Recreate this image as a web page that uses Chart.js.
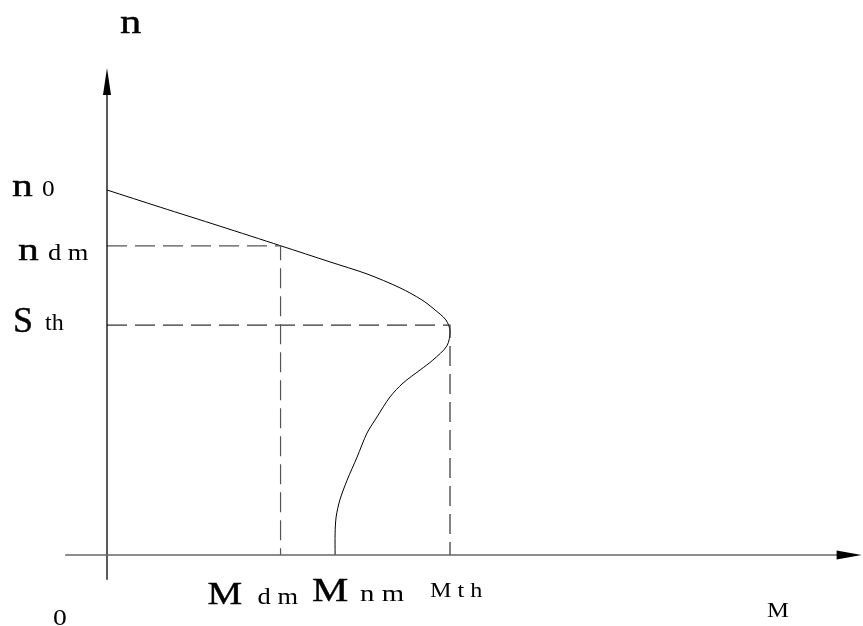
<!DOCTYPE html>
<html>
<head>
<meta charset="utf-8">
<script src="https://cdn.jsdelivr.net/npm/chart.js@4/dist/chart.umd.min.js"></script>
<style>
  html, body { margin: 0; padding: 0; background: #fff; }
  #wrap { width: 863px; height: 626px; }
</style>
</head>
<body>
<div id="wrap"><canvas id="chart" width="863" height="626"></canvas></div>
<script>
// Characteristic points (M normalised to M_th = 1, n normalised to n0 = 1)
const nValues = { n0: 1.0, ndm: 0.847, sth: 0.63 };
const mValues = { mdm: 0.506, mnm: 0.665, mth: 1.0 };

// Curve n = f(M)
const curveM = [0, 0.155, 0.329, 0.507, 0.650, 0.758, 0.854, 0.918, 0.953, 0.988, 1.0,
                0.991, 0.950, 0.913, 0.863, 0.825, 0.787, 0.758, 0.729, 0.700, 0.679, 0.668, 0.665, 0.665];
const curveN = [1.0, 0.953, 0.901, 0.847, 0.803, 0.770, 0.732, 0.699, 0.674, 0.644, 0.614,
                0.573, 0.534, 0.507, 0.471, 0.433, 0.378, 0.334, 0.268, 0.205, 0.151, 0.104, 0.060, 0];

// Axis extents
const xAxisRange = [-0.122, 2.2];
const yAxisRange = [-0.068, 1.334];

const curvePoints = curveM.map((m, i) => ({ x: m, y: curveN[i] }));

function dashed(m, n) {
  return [{ x: 0, y: n }, { x: m, y: n }, { x: m, y: 0 }];
}

// Flechas y etiquetas
const decorPlugin = {
  id: "decor",
  afterDatasetsDraw(chart) {
    const ctx = chart.ctx;
    const xs = chart.scales.x, ys = chart.scales.y;
    const px = v => xs.getPixelForValue(v);
    const py = v => ys.getPixelForValue(v);

    ctx.save();
    ctx.fillStyle = "#000";
    ctx.strokeStyle = "#000";
    ctx.lineWidth = 1;
    // y arrow
    const ax = px(0), ayTip = py(yAxisRange[1]);
    ctx.beginPath();
    ctx.moveTo(ax, ayTip);
    ctx.lineTo(ax - 4, ayTip + 27);
    ctx.lineTo(ax + 4, ayTip + 27);
    ctx.closePath();
    ctx.fill();
    // x arrow
    const bxTip = px(xAxisRange[1]), by = py(0);
    ctx.beginPath();
    ctx.moveTo(bxTip, by);
    ctx.lineTo(bxTip - 25, by - 4.5);
    ctx.lineTo(bxTip - 25, by + 4.5);
    ctx.closePath();
    ctx.fill();

    // heavy = trazo extra para engrosar un poco las letras grandes
    function txt(s, x, y, size, sx, heavy) {
      ctx.save();
      ctx.translate(x, y);
      ctx.scale(sx, 1);
      ctx.font = size + "px 'Liberation Serif'";
      ctx.textBaseline = "alphabetic";
      ctx.textAlign = "left";
      ctx.fillText(s, 0, 0);
      if (heavy) {
        ctx.lineWidth = heavy;
        ctx.strokeText(s, 0, 0);
      }
      ctx.restore();
    }

    const o = px(0);
    // n axis title
    txt("n", o + 13, ayTip - 35, 34, 1.25, 0.4);
    // n ticks
    txt("n", 12, py(nValues.n0) + 6, 32, 1.3, 0.4);
    txt("0", 42, py(nValues.n0) + 6, 23, 1.1);
    txt("n", 18, py(nValues.ndm) + 14, 32, 1.3, 0.4);
    txt("d m", 48, py(nValues.ndm) + 14, 23, 1.15);
    txt("S", 13, py(nValues.sth) + 7, 36, 1.0, 0.4);
    txt("th", 45, py(nValues.sth) + 5, 24, 1.0);
    // M ticks
    txt("M", px(mValues.mdm) - 73, by + 49, 32, 1.22, 0.4);
    txt("d m", px(mValues.mdm) - 23, by + 49, 23, 1.15);
    txt("M", px(mValues.mnm) - 23, by + 46, 34, 1.2, 0.4);
    txt("n m", px(mValues.mnm) + 25, by + 46, 23, 1.25);
    txt("M t h", px(mValues.mth) - 20, by + 42, 21, 1.15);
    // origin and M axis title
    txt("0", 53, 625, 23, 1.2);
    txt("M", 767, 617, 22, 1.12);
    ctx.restore();
  }
};

new Chart(document.getElementById("chart"), {
  type: "scatter",
  data: {
    datasets: [
      {
        data: [{ x: xAxisRange[0], y: 0 }, { x: xAxisRange[1] - 0.05, y: 0 }],
        showLine: true, borderColor: "#666", borderWidth: 1.3, pointRadius: 0
      },
      {
        data: [{ x: 0, y: yAxisRange[0] }, { x: 0, y: yAxisRange[1] - 0.05 }],
        showLine: true, borderColor: "#000", borderWidth: 1.3, pointRadius: 0
      },
      {
        data: dashed(mValues.mdm, nValues.ndm),
        showLine: true, borderColor: "#555", borderWidth: 1.2, borderDash: [20, 8], pointRadius: 0
      },
      {
        data: dashed(mValues.mth, nValues.sth),
        showLine: true, borderColor: "#333", borderWidth: 1.2, borderDash: [20, 8], pointRadius: 0
      },
      {
        data: curvePoints,
        showLine: true, borderColor: "#000", borderWidth: 1, pointRadius: 0, tension: 0.3
      }
    ]
  },
  options: {
    responsive: false,
    animation: false,
    layout: { padding: 0 },
    plugins: { legend: { display: false }, tooltip: { enabled: false } },
    scales: {
      x: { type: "linear", display: false, min: -107 / 343, max: 756 / 343 },
      y: { type: "linear", display: false, min: -71 / 365, max: 555 / 365 }
    }
  },
  plugins: [decorPlugin]
});
</script>
</body>
</html>
